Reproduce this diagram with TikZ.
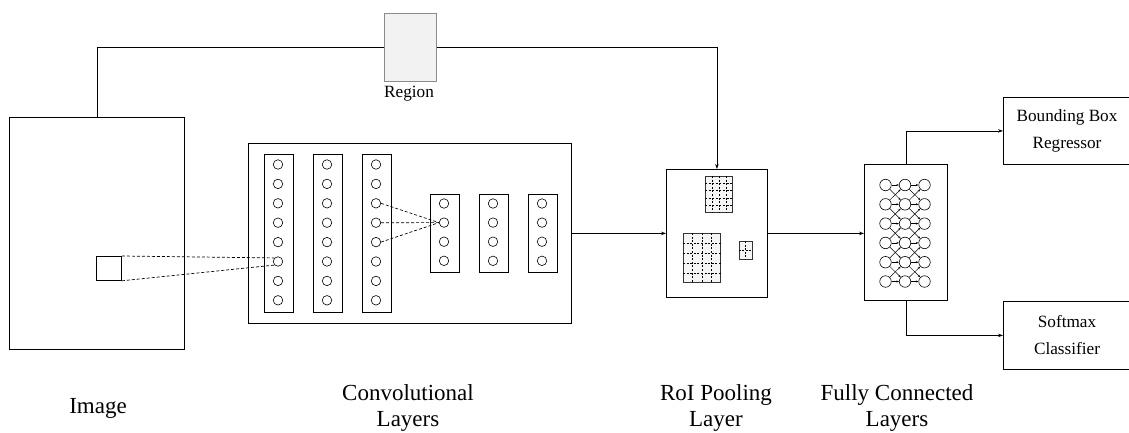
\documentclass[tikz,border=0pt]{standalone}
\usepackage{fontspec}
\setmainfont{Liberation Serif}
\usetikzlibrary{arrows.meta,calc}
\begin{document}
\begin{tikzpicture}[x=1pt,y=-1pt,
  blk/.style={draw, line width=0.8pt, inner sep=0pt, anchor=north west},
  lightblk/.style={draw=black!45, fill=black!5, line width=0.8pt, inner sep=0pt, anchor=north west},
  gridblk/.style={draw=black!80, fill=black!4, line width=0.8pt, inner sep=0pt, anchor=north west},
  neuron/.style={draw, circle, line width=0.6pt, inner sep=0pt, minimum size=9.5pt},
  fcneuron/.style={draw, circle, line width=0.6pt, inner sep=0pt, minimum size=11.5pt},
  link/.style={line width=0.7pt},
  arr/.style={line width=0.7pt, -{Stealth[length=5pt,width=3.5pt]}},
  fcarr/.style={line width=0.5pt, -{Stealth[length=2.6pt,width=2pt]}},
  dashlink/.style={line width=0.7pt, dash pattern=on 3pt off 2pt},
  griddash/.style={line width=0.6pt, dash pattern=on 2pt off 1.6pt},
  stagecap/.style={font=\fontsize{23}{25.5}\selectfont, align=center},
  smallcap/.style={font=\fontsize{17.2}{27}\selectfont, align=center}]
\useasboundingbox (0,0) rectangle (1129,432);

% input image with its receptive patch
\node[blk, minimum width=175pt, minimum height=232pt] (img) at (9,117) {};
\node[blk, minimum width=25pt, minimum height=24pt] (patch) at (96,256) {};

% region proposal
\node[lightblk, minimum width=52pt, minimum height=68pt] (region) at (384,12.5) {};
\node[smallcap] (regionlbl) at (409,94) {Region};

% convolutional stack
\node[blk, minimum width=323pt, minimum height=180pt] (conv) at (248,143) {};
\foreach \c/\x in {1/278,2/327,3/376}{
  \node[blk, minimum width=29pt, minimum height=158pt] (col\c) at (\x-14.5,154) {};
  \foreach \r in {1,...,8}
    \node[neuron] (c\c-\r) at (\x,{164.5+19.4*(\r-1)}) {};
}
\foreach \c/\x in {4/444,5/493,6/542}{
  \node[blk, minimum width=29pt, minimum height=78pt] (col\c) at (\x-14.5,194) {};
  \foreach \r in {1,...,4}
    \node[neuron] (c\c-\r) at (\x,{203.5+19.1*(\r-1)}) {};
}
\draw[dashlink] (patch.north east) -- (c1-6.north west);
\draw[dashlink] (patch.south east) -- (c1-6.south west);
\foreach \r in {3,4,5}
  \draw[dashlink] (c3-\r.east) -- (c4-2.west);

% RoI pooling layer with pooled grids
\node[blk, minimum width=101pt, minimum height=128pt] (roi) at (666,169) {};
\node[gridblk, minimum width=27pt, minimum height=36pt] (g1) at (705,176) {};
\node[gridblk, minimum width=37pt, minimum height=49pt] (g2) at (683,233) {};
\node[gridblk, minimum width=13.5pt, minimum height=18pt] (g3) at (738.5,241) {};
\foreach \g/\nc/\nr in {g1/4/5, g2/4/5, g3/2/2}{
  \foreach \i in {1,...,\numexpr\nc-1\relax}
    \draw[griddash] ($(\g.north west)!\i/\nc!(\g.north east)$) -- ($(\g.south west)!\i/\nc!(\g.south east)$);
  \foreach \j in {1,...,\numexpr\nr-1\relax}
    \draw[griddash] ($(\g.north west)!\j/\nr!(\g.south west)$) -- ($(\g.north east)!\j/\nr!(\g.south east)$);
}

% fully connected layers
\node[blk, minimum width=83pt, minimum height=136pt] (fc) at (864,164) {};
\foreach \c/\x in {1/885.5,2/905,3/924.5}
  \foreach \r in {1,...,6}
    \node[fcneuron] (f\c-\r) at (\x,{185+19.3*(\r-1)}) {};
\foreach \c/\n in {1/2,2/3}{
  \foreach \r in {1,...,6}
    \draw[fcarr] (f\c-\r) -- (f\n-\r);
  \foreach \r/\s in {1/2,2/3,3/4,4/5,5/6}{
    \draw[fcarr] (f\c-\r) -- (f\n-\s);
    \draw[fcarr] (f\c-\s) -- (f\n-\r);
  }
}

% output heads
\node[blk, minimum width=128pt, minimum height=67pt] (bbox) at (1003,97) {};
\node[smallcap] (bboxlbl) at (1067,130.5) {Bounding Box\\Regressor};
\node[blk, minimum width=128pt, minimum height=68pt] (soft) at (1003,301) {};
\node[smallcap] (softlbl) at (1067,335) {Softmax\\Classifier};

% connectors
\draw[link] (img.north) |- (region.west);
\draw[arr] (region.east) -| (roi.north);
\draw[arr] (conv.east) -- (conv.east -| roi.west);
\draw[arr] (roi.east) -- (roi.east -| fc.west);
\draw[arr] (fc.north) |- (bbox.west);
\draw[arr] (fc.south) |- (soft.west);

% stage captions
\node[stagecap] (imglbl) at (98,408) {Image};
\node[stagecap] (convlbl) at (408,408) {Convolutional\\Layers};
\node[stagecap] (roilbl) at (716,408) {RoI Pooling\\Layer};
\node[stagecap] (fclbl) at (897,408) {Fully Connected\\Layers};
\end{tikzpicture}
\end{document}
